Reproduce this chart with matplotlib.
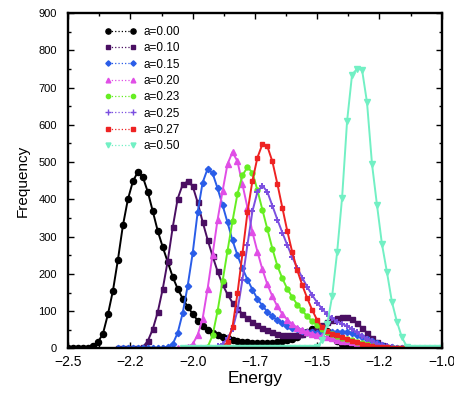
import numpy as np
import matplotlib
matplotlib.use("Agg")
import matplotlib.pyplot as plt
from matplotlib.lines import Line2D
from matplotlib.ticker import MultipleLocator, FixedLocator

plt.rcParams['font.family'] = ['Liberation Sans', 'DejaVu Sans']

STEP = 0.02  # histogram bin width

labels = ["a=0.00", "a=0.10", "a=0.15", "a=0.20", "a=0.23", "a=0.25", "a=0.27", "a=0.50"]

start_000 = -2.50
freq_000 = [0, 0, 0, 1, 2, 6, 17, 40, 92, 155, 238, 330, 400, 448, 474, 460, 420, 368, 315, 272,
            232, 192, 160, 134, 112, 93, 75, 60, 50, 42, 37, 32, 27, 24, 20, 18, 17, 15, 14, 14,
            14, 15, 17, 19, 22, 26, 32, 38, 45, 52, 56, 54, 46, 34, 21, 11, 5, 2, 1, 0, 0, 0, 0]

start_010 = -2.30
freq_010 = [0, 0, 0, 0, 1, 4, 20, 52, 98, 160, 235, 325, 402, 440, 448, 436, 392, 340, 292, 248,
            207, 172, 145, 123, 106, 93, 82, 72, 63, 56, 49, 44, 40, 37, 36, 36, 37, 39, 43, 48,
            54, 62, 70, 77, 82, 85, 84, 78, 68, 55, 42, 28, 17, 9, 4, 2, 1, 0, 0]

start_015 = -2.30
freq_015 = [0, 0, 0, 0, 0, 0, 0, 0, 0, 1, 4, 12, 42, 95, 168, 255, 365, 445, 482, 470,
            430, 385, 338, 290, 250, 215, 185, 158, 133, 115, 98, 86, 76, 68, 61, 56, 51, 48, 45, 43,
            42, 42, 43, 44, 45, 45, 44, 41, 37, 32, 26, 20, 14, 9, 5, 3, 1, 0, 0]

start_020 = -2.06
freq_020 = [0, 1, 4, 12, 36, 80, 160, 252, 345, 422, 495, 527, 502, 440, 378, 312, 260, 212, 172, 140,
            113, 93, 77, 65, 56, 49, 44, 40, 36, 33, 30, 27, 24, 21, 19, 17, 14, 11, 8, 6,
            4, 3, 2, 1, 1, 0, 0, 0, 0, 0, 0]

start_023 = -2.04
freq_023 = [0, 0, 0, 0, 1, 4, 35, 100, 180, 262, 342, 415, 465, 486, 472, 425, 372, 320, 268, 222,
            188, 160, 138, 118, 102, 86, 73, 62, 52, 44, 38, 33, 29, 25, 22, 18, 15, 12, 9, 6,
            4, 2, 1, 0, 0]

start_025 = -2.00
freq_025 = [0, 0, 0, 1, 2, 6, 13, 27, 52, 102, 185, 278, 368, 420, 437, 420, 383, 346, 311, 277,
            245, 216, 190, 165, 143, 123, 106, 92, 81, 72, 66, 60, 52, 43, 34, 26, 19, 13, 9, 6,
            3, 2, 1, 0, 0]

start_027 = -1.98
freq_027 = [0, 0, 0, 0, 0, 2, 18, 58, 148, 255, 365, 450, 512, 548, 542, 502, 442, 378, 315, 258,
            210, 170, 135, 103, 76, 57, 46, 40, 35, 31, 26, 21, 17, 13, 10, 7, 5, 4, 3, 2,
            1, 1, 0, 0]

start_050 = -2.04
freq_050 = [0, 0, 0, 0, 0, 0, 0, 0, 0, 0, 0, 0, 0, 0, 0, 0, 0, 0, 0, 0,
            0, 0, 0, 0, 0, 0, 0, 3, 22, 65, 140, 258, 405, 610, 735, 750, 748, 660, 495, 385,
            280, 205, 125, 72, 30, 5, 1, 0, 0, 0, 0, 0, 0]

starts = [start_000, start_010, start_015, start_020, start_023, start_025, start_027, start_050]
freqs = [freq_000, freq_010, freq_015, freq_020, freq_023, freq_025, freq_027, freq_050]

colors = ['#000000', '#4a0f62', '#2a5de8', '#e04ee6', '#66ee22', '#7b4fe0', '#ee2222', '#72f0c4']
markers = ['o', 's', 'D', '^', 'o', '+', 's', 'v']
msizes = [4.4, 3.6, 3.2, 4.0, 3.6, 4.8, 3.2, 4.2]

xticks = [-2.5, -2.25, -2.0, -1.75, -1.5, -1.25, -1.0]
xticklabels = ['\u22122.5', '\u22122.2', '\u22122.0', '\u22121.7', '\u22121.5', '\u22121.2', '\u22121.0']
yticks = [0, 100, 200, 300, 400, 500, 600, 700, 800, 900]

fig = plt.figure(figsize=(4.54, 3.94), dpi=100)
ax = fig.add_axes([0.150, 0.1155, 0.823, 0.8515])

for s, f, c, m, ms in zip(starts, freqs, colors, markers, msizes):
    f = np.asarray(f, dtype=float)
    x = s + STEP * np.arange(len(f))
    ax.plot(x, f, color=c, lw=1.4, marker=m, ms=ms, mew=1.0 if m != '+' else 1.4,
            mfc=c, mec=c, zorder=2)

ax.set_xlim(-2.5, -1.0)
ax.set_ylim(0, 900)
ax.xaxis.set_major_locator(FixedLocator(xticks))
ax.set_xticklabels(xticklabels, fontsize=10)
ax.xaxis.set_minor_locator(MultipleLocator(0.125))
ax.set_yticks(yticks)
ax.tick_params(axis='y', labelsize=8, pad=8)
ax.yaxis.set_minor_locator(MultipleLocator(50))
ax.tick_params(which='both', direction='in', top=True, right=True, width=1.0)
ax.tick_params(which='major', length=4)
ax.tick_params(which='minor', length=2)
ax.tick_params(axis='x', pad=5)
for sp in ax.spines.values():
    sp.set_linewidth(1.7)

ax.set_xlabel('Energy', fontsize=12.5, labelpad=1)
ax.set_ylabel('Frequency', fontsize=11, labelpad=6)

handles = [Line2D([0], [0], color=c, lw=0.9, ls=':', marker=m, ms=ms * 0.85, mfc=c, mec=c)
           for c, m, ms in zip(colors, markers, msizes)]
leg = ax.legend(handles, labels, loc='upper left', bbox_to_anchor=(0.086, 0.976),
                frameon=False, fontsize=8.5, numpoints=2, handlelength=2.7,
                handletextpad=0.6, labelspacing=0.37, borderaxespad=0.0)

fig.savefig('out.png', dpi=100)
